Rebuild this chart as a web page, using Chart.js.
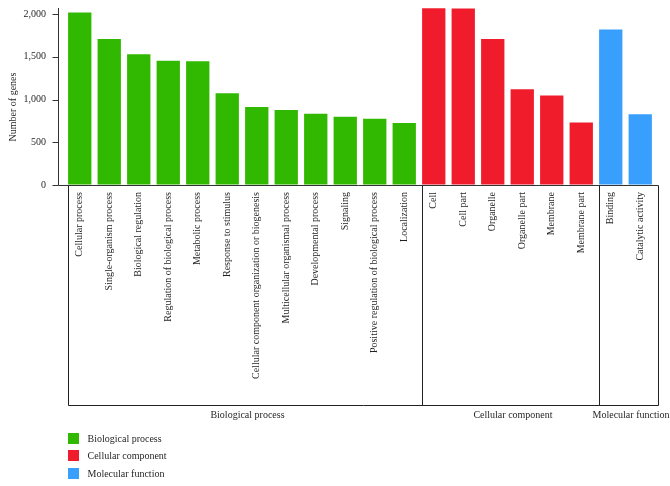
<!DOCTYPE html>
<html>
<head>
<meta charset="utf-8">
<script src="https://cdn.jsdelivr.net/npm/chart.js@4/dist/chart.umd.min.js"></script>
<style>
  html, body { margin: 0; padding: 0; background: #fff; }
  #wrap { width: 670px; height: 486px; }
</style>
</head>
<body>
<div id="wrap"><canvas id="c" width="670" height="486"></canvas></div>
<script>
const bpLabels = ["Cellular process", "Single-organism process", "Biological regulation",
  "Regulation of biological process", "Metabolic process", "Response to stimulus",
  "Cellular component organization or biogenesis", "Multicellular organismal process",
  "Developmental process", "Signaling", "Positive regulation of biological process", "Localization"];
const bpValues = [2020, 1710, 1530, 1455, 1450, 1073, 912, 877, 834, 799, 775, 725];
const ccLabels = ["Cell", "Cell part", "Organelle", "Organelle part", "Membrane", "Membrane part"];
const ccValues = [2070, 2066, 1708, 1122, 1049, 733];
const mfLabels = ["Binding", "Catalytic activity"];
const mfValues = [1821, 827];
const groupNames = ["Biological process", "Cellular component", "Molecular function"];
const groupColors = ["#31b800", "#f01c2c", "#389ffc"];
const yTicks = [0, 500, 1000, 1500, 2000];
const yTitle = "Number of genes";

const categories = [...bpLabels, ...ccLabels, ...mfLabels];
const groups = [bpValues, ccValues, mfValues];
const FONT = "'Liberation Serif', 'DejaVu Serif', serif";
const TEXT = "#231f20";

let offset = 0;
const datasets = groups.map((vals, g) => {
  const data = categories.map(() => null);
  vals.forEach((v, i) => { data[offset + i] = v; });
  const start = offset;
  offset += vals.length;
  return {
    label: groupNames[g],
    data,
    backgroundColor: groupColors[g],
    borderWidth: 0,
    skipNull: true,
    barPercentage: 0.79,
    categoryPercentage: 1.0,
    _start: start
  };
});

const decor = {
  id: 'decor',
  afterDraw(chart) {
    const { ctx, chartArea } = chart;
    const xs = chart.scales.x, ys = chart.scales.y;
    const { left, top, bottom } = chartArea;
    const catW = xs.getPixelForValue(1) - xs.getPixelForValue(0);
    const barW = catW * 0.79;
    const axisX = Math.round(left - 7) + 0.5;
    const base = Math.round(bottom) + 0.5;
    const boxRight = Math.round(xs.getPixelForValue(categories.length - 1) + barW / 2 + 6.5) + 0.5;
    const boxBottom = base + 220;
    ctx.save();
    ctx.lineWidth = 1;
    ctx.strokeStyle = "#333";
    ctx.beginPath();
    ctx.moveTo(axisX, Math.round(top));
    ctx.lineTo(axisX, base);
    ctx.stroke();
    yTicks.forEach(t => {
      const py = Math.round(ys.getPixelForValue(t)) + 0.5;
      ctx.beginPath();
      ctx.moveTo(axisX - 6, py);
      ctx.lineTo(axisX, py);
      ctx.stroke();
    });
    ctx.beginPath();
    ctx.moveTo(axisX, base);
    ctx.lineTo(boxRight, base);
    ctx.stroke();
    ctx.strokeStyle = "#222";
    const edges = datasets.map(d => Math.round(xs.getPixelForValue(d._start) - barW / 2) + 0.5);
    edges.push(boxRight);
    ctx.beginPath();
    edges.forEach(ex => { ctx.moveTo(ex, base); ctx.lineTo(ex, boxBottom); });
    ctx.moveTo(edges[0], boxBottom);
    ctx.lineTo(boxRight, boxBottom);
    ctx.stroke();
    ctx.fillStyle = TEXT;
    ctx.font = "10px " + FONT;
    ctx.textAlign = "center";
    ctx.textBaseline = "middle";
    groupNames.forEach((n, g) => {
      ctx.fillText(n, (edges[g] + edges[g + 1]) / 2 + 2, boxBottom + 10);
    });
    ctx.save();
    ctx.translate(13.5, 107);
    ctx.rotate(-Math.PI / 2);
    ctx.fillText(yTitle, 0, 0);
    ctx.restore();
    ctx.textAlign = "left";
    chart.data.datasets.forEach((d, i) => {
      const cy = 438 + i * 17.5;
      ctx.fillStyle = d.backgroundColor;
      ctx.fillRect(68, Math.round(cy - 5.5), 11, 11);
      ctx.fillStyle = TEXT;
      ctx.fillText(d.label, 87.5, cy + 1);
    });
    ctx.restore();
  }
};

new Chart(document.getElementById('c'), {
  type: 'bar',
  data: { labels: categories, datasets },
  options: {
    responsive: false,
    animation: false,
    layout: { padding: { top: 8, left: 0, right: 15, bottom: 81 } },
    plugins: { legend: { display: false }, tooltip: { enabled: false } },
    scales: {
      x: {
        grid: { display: false, drawTicks: false, tickLength: 0 },
        border: { display: false },
        ticks: {
          autoSkip: false, minRotation: 90, maxRotation: 90, padding: 7,
          color: TEXT, font: { family: FONT, size: 10 }
        },
        afterFit(s) { s.height = 220; }
      },
      y: {
        min: 0, max: 2072,
        grid: { display: true, drawOnChartArea: false, drawTicks: true, tickLength: 19, color: 'rgba(0,0,0,0)' },
        border: { display: false },
        ticks: {
          padding: 0, color: TEXT,
          font: { family: FONT, size: 10 },
          callback: v => v.toLocaleString('en-US')
        },
        afterBuildTicks(s) { s.ticks = yTicks.map(v => ({ value: v })); },
        afterFit(s) { s.width = 65; }
      }
    }
  },
  plugins: [decor]
});
</script>
</body>
</html>
